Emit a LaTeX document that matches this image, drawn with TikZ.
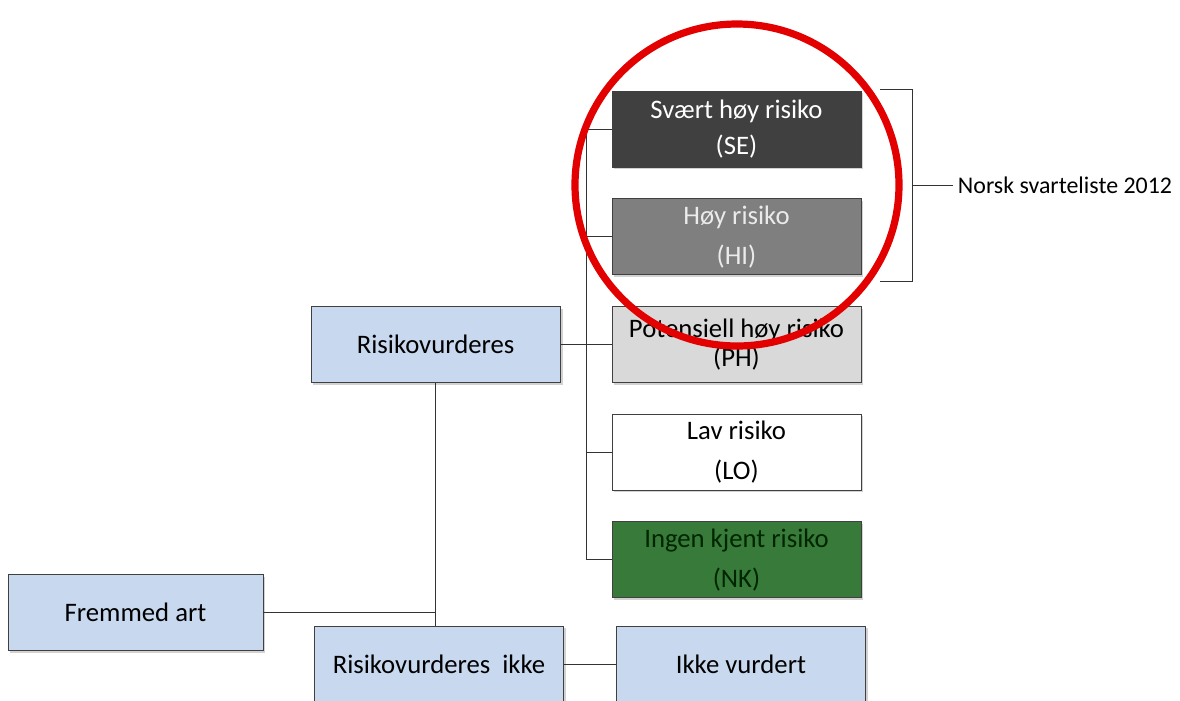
\documentclass[tikz,border=0pt]{standalone}
\usepackage{fontspec}
\setmainfont{Carlito}
\usetikzlibrary{positioning,shadows,calc}
\definecolor{artblue}{RGB}{200,217,239}
\definecolor{segray}{RGB}{64,64,64}
\definecolor{higray}{RGB}{127,127,127}
\definecolor{phgray}{RGB}{217,217,217}
\definecolor{nkgreen}{RGB}{56,122,58}
\definecolor{ringred}{RGB}{226,0,0}
\tikzset{
  riskbox/.style={draw=black!75, line width=0.6pt, align=center, font=\fontsize{19}{23}\selectfont,
    minimum width=6.225cm, minimum height=1.9cm, inner sep=1pt,
    drop shadow={shadow xshift=0.06cm, shadow yshift=-0.06cm, opacity=0.35}},
  artbox/.style={riskbox, fill=artblue},
  treeline/.style={draw=black!80, line width=0.7pt}
}

\begin{document}
\begin{tikzpicture}[x=0.025cm, y=-0.025cm, node distance=0.77cm]
    \clip (0,0) rectangle (1180,700);
    \fill[white] (0,0) rectangle (1180,700);
    % risk categories
    \node[riskbox, fill=segray, text=white] (se) at (736.5,129) {Svært høy risiko\\[2.5pt](SE)};
    \node[riskbox, fill=higray, text=black!8, below=of se] (hi) {Høy risiko\\[5.5pt](HI)};
    \node[riskbox, fill=phgray, below=of hi] (ph) {Potensiell høy risiko\\[-2.5pt](PH)};
    \node[riskbox, fill=white, below=of ph] (lo) {Lav risiko\\[5pt](LO)};
    \node[riskbox, fill=nkgreen, text=black!85!green, below=of lo] (nk) {Ingen kjent risiko\\[5.5pt](NK)};
    % assessment
    \node[artbox, left=1.275cm of ph] (vurd) {Risikovurderes};
    \node[artbox, minimum width=6.375cm] (art) at (135.5,612.5) {Fremmed art};
    \node[artbox] (ikke) at (439,664) {Risikovurderes\ \ ikke};
    \node[artbox, right=1.3cm of ikke] (ikkev) {Ikke vurdert};
    % tree lines
    \coordinate (trunk) at ($(vurd.east)!0.5!(ph.west)$);
    \draw[treeline] (vurd.east) -- (ph.west);
    \draw[treeline] (se.west) -| (nk.west -| trunk) -- (nk.west);
    \draw[treeline] (hi.west) -- (hi.west -| trunk);
    \draw[treeline] (lo.west) -- (lo.west -| trunk);
    \draw[treeline] (vurd.south) -- (vurd.south |- ikke.north);
    \draw[treeline] (art.east) -- (art.east -| vurd.south);
    \draw[treeline] (ikke.east) -- (ikkev.west);
    % bracket for the black list
    \coordinate (brtop) at (880,89);
    \coordinate (brbot) at (880,281);
    \draw[treeline] (brtop) -- ++(32,0) |- (brbot);
    \node[anchor=west, font=\fontsize{17}{20}\selectfont] (list) at (953,185) {Norsk svarteliste 2012};
    \draw[treeline] (912,185) -- (list.west);
    % red ring
    \draw[ringred, line width=0.18cm] (737,185) ellipse [x radius=162, y radius=161];
\end{tikzpicture}
\end{document}
